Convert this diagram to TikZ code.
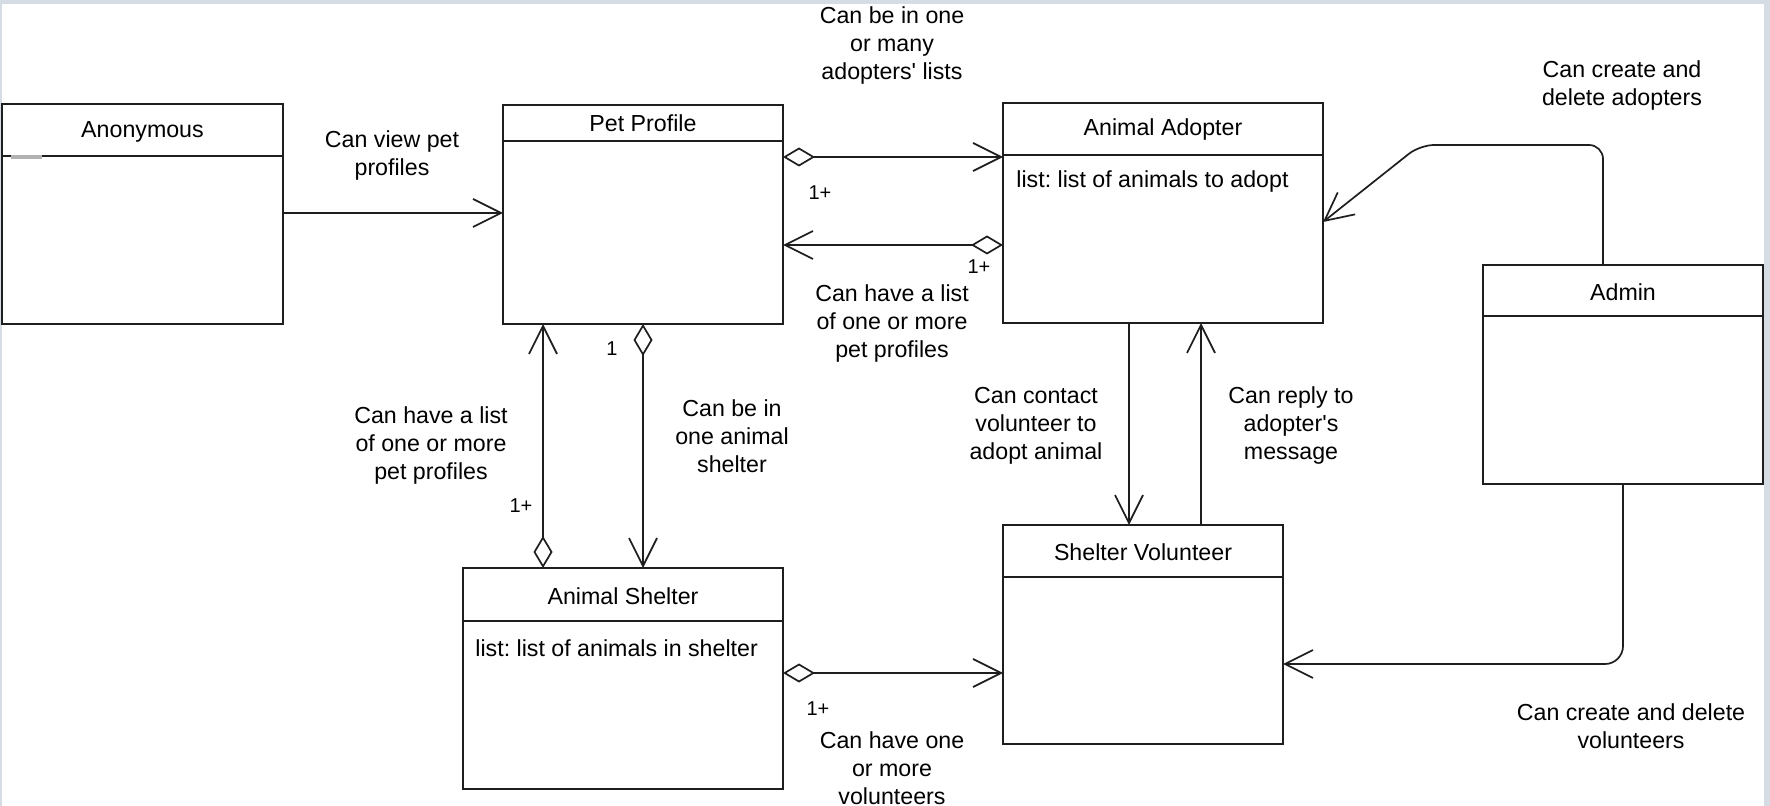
\documentclass[tikz,border=0pt]{standalone}
\usepackage{xcolor}
\usepackage{fontspec}
\setmainfont{Liberation Sans}
\usepackage{tikz}
\usetikzlibrary{arrows.meta}
\frenchspacing

\definecolor{framegrey}{HTML}{D6DCE3}
\definecolor{linegrey}{HTML}{1E1E1E}

\tikzset{
    classbox/.style={draw=linegrey, line width=1pt, anchor=north west, inner sep=0pt, outer sep=0pt,
        minimum width=140pt, minimum height=110pt},
    classline/.style={draw=linegrey, line width=1pt},
    txt/.style={font=\fontsize{11.6}{14}\selectfont, inner sep=0pt, align=center},
    mult/.style={font=\fontsize{10}{12}\selectfont, inner sep=0pt},
    assoc/.style={draw=linegrey, line width=0.85pt, -{Straight Barb[length=14pt,width=14pt]}},
    aggr/.style={draw=linegrey, line width=0.85pt,
        {Diamond[open,length=16pt,width=9.5pt]}-{Straight Barb[length=14pt,width=14pt]}}
}

\begin{document}
\begin{tikzpicture}[x=0.5pt, y=-0.5pt]
    % Frame
    \useasboundingbox (0,0) rectangle (1770,806);
    \fill[framegrey] (0,0) rectangle (1770,806);
    \fill[white] (2,4) rectangle (1764,806);

    % Classes
    \node[classbox, minimum width=140.5pt] (anon) at (2,104) {};
    \node[classbox, minimum height=109.5pt] (pet) at (503,105) {};
    \node[classbox, minimum width=160pt] (adopter) at (1003,103) {};
    \node[classbox, minimum height=109.5pt] (admin) at (1483,265) {};
    \node[classbox, minimum width=160pt, minimum height=110.5pt] (shelter) at (463,568) {};
    \node[classbox, minimum height=109.5pt] (volunteer) at (1003,525) {};

    % Header lines
    \draw[classline] (anon.west |- 0,156) -- (anon.east |- 0,156);
    \draw[gray!60, line width=1.6pt] (11,157) -- (42,157);
    \draw[classline] (pet.west |- 0,141) -- (pet.east |- 0,141);
    \draw[classline] (adopter.west |- 0,155) -- (adopter.east |- 0,155);
    \draw[classline] (admin.west |- 0,316) -- (admin.east |- 0,316);
    \draw[classline] (shelter.west |- 0,621) -- (shelter.east |- 0,621);
    \draw[classline] (volunteer.west |- 0,577) -- (volunteer.east |- 0,577);

    % Class names and attributes
    \node[txt] (anontitle) at (anon.north |- 0,132) {Anonymous};
    \node[txt] (pettitle) at (pet.north |- 0,123) {Pet Profile};
    \node[txt] (adoptertitle) at (adopter.north |- 0,130) {Animal Adopter};
    \node[txt, anchor=west] (adopterattr) at (1016,182) {list: list of animals to adopt};
    \node[txt] (admintitle) at (admin.north |- 0,292) {Admin};
    \node[txt] (sheltertitle) at (shelter.north |- 0,596) {Animal Shelter};
    \node[txt, anchor=west] (shelterattr) at (475,648) {list: list of animals in shelter};
    \node[txt] (volunteertitle) at (volunteer.north |- 0,552) {Shelter Volunteer};

    % Connectors
    \draw[assoc] (anon.east |- 0,213) -- (pet.west |- 0,213);
    \draw[aggr] (pet.east |- 0,157) -- (adopter.west |- 0,157);
    \draw[aggr] (adopter.west |- 0,245) -- (pet.east |- 0,245);
    \draw[aggr] (shelter.north -| 543,0) -- (pet.south -| 543,0);
    \draw[aggr] (pet.south -| 643,0) -- (shelter.north -| 643,0);
    \draw[assoc] (adopter.south -| 1129,0) -- (volunteer.north -| 1129,0);
    \draw[assoc] (volunteer.north -| 1201,0) -- (adopter.south -| 1201,0);
    \draw[assoc, rounded corners=7pt] (admin.north -| 1603,0) -- (1603,145) -- (1420,145) -- (adopter.east |- 0,222);
    \draw[assoc, rounded corners=9pt] (admin.south) -- (admin.south |- 0,664) -- (volunteer.east |- 0,664);
    \draw[aggr] (shelter.east |- 0,673) -- (volunteer.west |- 0,673);

    % Multiplicities
    \node[mult] (m1) at (820,193) {1+};
    \node[mult] (m2) at (979,267) {1+};
    \node[mult] (m3) at (521,506) {1+};
    \node[mult] (m4) at (612,349) {1};
    \node[mult] (m5) at (818,709) {1+};

    % Labels
    \node[txt] (lview) at (392,156) {Can view pet\\profiles};
    \node[txt] (lonemany) at (892,46) {Can be in one\\or many\\adopters\textquotesingle\ lists};
    \node[txt] (lpetlist) at (892,324) {Can have a list\\of one or more\\pet profiles};
    \node[txt] (lshelterlist) at (431,446) {Can have a list\\of one or more\\pet profiles};
    \node[txt] (loneshelter) at (732,436) {Can be in\\one animal\\shelter};
    \node[txt] (lcontact) at (1036,426) {Can contact\\volunteer to\\adopt animal};
    \node[txt] (lreply) at (1291,426) {Can reply to\\adopter\textquotesingle s\\message};
    \node[txt] (ladopters) at (1622,86) {Can create and\\delete adopters};
    \node[txt] (lvolunteers) at (1631,726) {Can create and delete\\volunteers};
    \node[txt] (lhasvol) at (892,768) {Can have one\\or more\\volunteers};
\end{tikzpicture}
\end{document}
